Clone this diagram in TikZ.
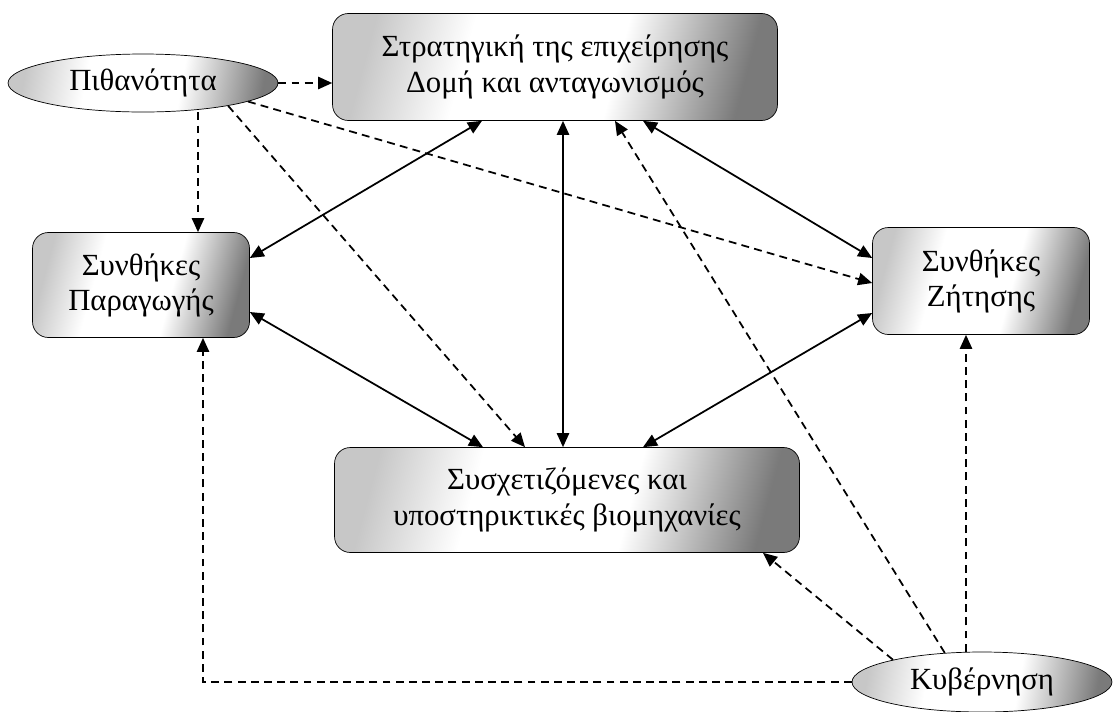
\documentclass[tikz,border=0pt]{standalone}
\usepackage{fontspec}
\setmainfont{Liberation Serif}
\usetikzlibrary{shapes.geometric,calc,arrows.meta}
\pgfdeclarehorizontalshading{boxshade}{100bp}{color(0bp)=(black!22); color(25bp)=(black!22); color(38bp)=(white); color(58bp)=(white); color(75bp)=(black!52); color(100bp)=(black!52)}
\newcommand{\factor}[6]{\node[draw,rectangle,rounded corners=9pt,shading=boxshade,shading angle=-15,minimum width=#4cm,minimum height=#5cm,align=center] (#1) at (#2,#3) {#6};}
\newcommand{\actor}[6]{\node[draw,ellipse,shading=boxshade,shading angle=-10,minimum width=#4cm,minimum height=#5cm,inner sep=0pt] (#1) at (#2,#3) {#6};}
\newcommand{\twoway}[2]{\draw[line width=1pt,<->,>={Triangle[length=8pt,width=7pt]}] (#1) -- (#2);}
\newcommand{\influence}[2]{\draw[line width=1pt,dash pattern=on 4.5pt off 3pt,->,>={Triangle[length=8pt,width=7pt]}] (#1) -- (#2);}

\begin{document}
\begin{tikzpicture}[x=0.02cm,y=-0.02cm,font=\fontsize{17.5}{20}\selectfont]
    \useasboundingbox (0,0) rectangle (1116,711);
    \factor{top}{555}{67}{8.9}{2.14}{Στρατηγική της επιχείρησης\\Δομή και ανταγωνισμός}
    \factor{left}{141}{285}{4.34}{2.1}{Συνθήκες\\Παραγωγής}
    \factor{right}{981}{281}{4.34}{2.14}{Συνθήκες\\Ζήτησης}
    \factor{bottom}{567}{500}{9.3}{2.1}{Συσχετιζόμενες και\\υποστηρικτικές βιομηχανίες}
    \actor{pith}{143}{83}{5.4}{1.16}{Πιθανότητα}
    \actor{kyv}{982}{682}{5.2}{1.2}{Κυβέρνηση}
    % solid links between the four factors
    \twoway{$(top.south)+(-73,0)$}{$(left.east)+(0,-27)$}
    \twoway{$(top.south)+(88,0)$}{$(right.west)+(0,-23)$}
    \twoway{$(top.south)+(8,0)$}{$(bottom.north)+(-4,0)$}
    \twoway{$(left.east)+(0,27)$}{$(bottom.north)+(-84,0)$}
    \twoway{$(right.west)+(0,32)$}{$(bottom.north)+(76,0)$}
    % dashed influences
    \influence{pith.east}{pith.east -| top.west}
    \influence{$(pith.south)+(55,0)$}{$(left.north)+(57,0)$}
    \influence{pith.-15}{$(bottom.north)+(-42,0)$}
    \influence{pith.-10}{$(right.west)+(0,2)$}
    \influence{kyv.166}{$(bottom.south)+(196,0)$}
    \influence{kyv.142}{$(top.south)+(60,0)$}
    \influence{$(kyv.north)+(-16,0)$}{$(right.south)+(-15,0)$}
    \draw[line width=1pt,dash pattern=on 4.5pt off 3pt,->,>={Triangle[length=8pt,width=7pt]}] (kyv.west) -| ($(left.south)+(62,0)$);
\end{tikzpicture}
\end{document}
